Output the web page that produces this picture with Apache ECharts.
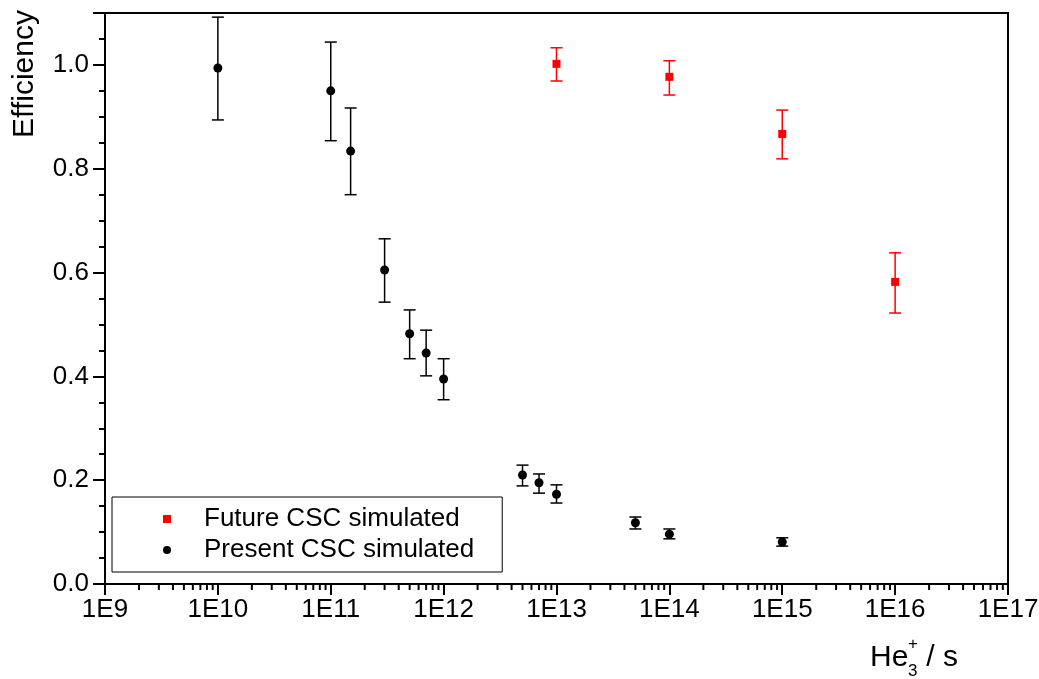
<!DOCTYPE html>
<html>
<head>
<meta charset="utf-8">
<script src="https://cdn.jsdelivr.net/npm/echarts@6/dist/echarts.min.js"></script>
<style>
html,body{margin:0;padding:0;background:#fff;}
#chart{width:1039px;height:679px;}
</style>
</head>
<body>
<div id="chart"></div>
<script>
// ---- data ----
const presentX    = [1e10, 1e11, 1.5e11, 3e11, 5e11, 7e11, 1e12, 5e12, 7e12, 1e13, 5e13, 1e14, 1e15];
const presentY    = [0.994, 0.950, 0.834, 0.605, 0.482, 0.445, 0.395, 0.210, 0.195, 0.173, 0.118, 0.096, 0.081];
const presentLow  = [0.894, 0.854, 0.750, 0.543, 0.434, 0.401, 0.355, 0.189, 0.175, 0.156, 0.106, 0.087, 0.073];
const presentHigh = [1.092, 1.044, 0.917, 0.665, 0.528, 0.489, 0.434, 0.229, 0.212, 0.191, 0.129, 0.106, 0.089];

const futureX    = [1e13, 1e14, 1e15, 1e16];
const futureY    = [1.002, 0.977, 0.867, 0.582];
const futureLow  = [0.969, 0.942, 0.819, 0.522];
const futureHigh = [1.033, 1.008, 0.913, 0.638];

const xTickExponents = [9, 10, 11, 12, 13, 14, 15, 16, 17];
const xTickLabels = ['1E9', '1E10', '1E11', '1E12', '1E13', '1E14', '1E15', '1E16', '1E17'];
const minorMultipliers = [2, 3, 4, 5, 6, 7, 8, 9];

const FONT = 'Liberation Sans, Arial, sans-serif';

// minor tick positions for the log axis
const minorTickValues = [];
for (let k = 0; k < xTickExponents.length - 1; k++) {
  for (const m of minorMultipliers) minorTickValues.push([m * Math.pow(10, xTickExponents[k])]);
}

function errData(xs, lo, hi) { return xs.map((x, i) => [x, lo[i], hi[i]]); }
function errRender(color) {
  return function (params, api) {
    const x = api.value(0), lo = api.value(1), hi = api.value(2);
    const p1 = api.coord([x, hi]), p2 = api.coord([x, lo]);
    const w = 6;
    const st = { stroke: color, lineWidth: 1.5 };
    return { type: 'group', children: [
      { type: 'line', shape: { x1: p1[0], y1: p1[1], x2: p2[0], y2: p2[1] }, style: st },
      { type: 'line', shape: { x1: p1[0] - w, y1: p1[1], x2: p1[0] + w, y2: p1[1] }, style: st },
      { type: 'line', shape: { x1: p2[0] - w, y1: p2[1], x2: p2[0] + w, y2: p2[1] }, style: st }
    ]};
  };
}

const chart = echarts.init(document.getElementById('chart'), null, { renderer: 'canvas' });
chart.setOption({
  animation: false,
  backgroundColor: '#fff',
  textStyle: { fontFamily: FONT },
  grid: { left: 105, right: 31, top: 13, bottom: 95, containLabel: false, outerBoundsMode: 'none',
          show: true, borderColor: '#000', borderWidth: 2, backgroundColor: 'transparent' },
  xAxis: {
    type: 'log', logBase: 10, min: 1e9, max: 1e17, splitNumber: 8,
    axisLine: { show: true, lineStyle: { color: '#000', width: 2 } },
    axisTick: { show: true, inside: false, length: 11, lineStyle: { color: '#000', width: 2 } },
    minorTick: { show: false },
    splitLine: { show: false },
    axisLabel: { color: '#000', fontSize: 26, fontFamily: FONT, margin: 13,
      formatter: v => { const e = Math.round(Math.log10(v)); const i = xTickExponents.indexOf(e); return i >= 0 ? xTickLabels[i] : ''; } }
  },
  yAxis: {
    type: 'value', min: 0, max: 1.1, interval: 0.2,
    axisLine: { show: true, lineStyle: { color: '#000', width: 2 } },
    axisTick: { show: true, inside: false, length: 12, lineStyle: { color: '#000', width: 2 } },
    minorTick: { show: true, splitNumber: 4, length: 6, lineStyle: { color: '#000', width: 2 } },
    splitLine: { show: false },
    axisLabel: { color: '#000', fontSize: 26, fontFamily: FONT, margin: 16, showMaxLabel: false,
      formatter: v => v.toFixed(1) }
  },
  legend: {
    orient: 'vertical', left: 112, top: 497,
    padding: [8, 28, 8, 51],
    itemGap: 3, itemWidth: 8, itemHeight: 8,
    borderColor: '#000', borderWidth: 1,
    textStyle: { fontSize: 26, color: '#000', fontFamily: FONT, lineHeight: 28, padding: [0, 0, 0, 28] },
    data: ['Future CSC simulated', 'Present CSC simulated']
  },
  graphic: [
    { type: 'text', x: 25, y: 74, rotation: Math.PI / 2,
      style: { text: 'Efficiency', font: '30px ' + FONT, fill: '#000', align: 'center', verticalAlign: 'middle' } },
    { type: 'group', x: 870, y: 658, children: [
      { type: 'text', x: 0, y: 0, style: { text: 'He', font: '30px ' + FONT, fill: '#000', align: 'left', verticalAlign: 'middle' } },
      { type: 'text', x: 38, y: -14, style: { text: '+', font: '17px ' + FONT, fill: '#000', align: 'left', verticalAlign: 'middle' } },
      { type: 'text', x: 38, y: 13, style: { text: '3', font: '17px ' + FONT, fill: '#000', align: 'left', verticalAlign: 'middle' } },
      { type: 'text', x: 48, y: 0, style: { text: ' / s', font: '30px ' + FONT, fill: '#000', align: 'left', verticalAlign: 'middle' } }
    ]}
  ],
  series: [
    { type: 'custom', name: 'xMinorTicks', silent: true, clip: false, z: 1,
      data: minorTickValues, encode: { x: 0 },
      renderItem: (params, api) => {
        const p = api.coord([api.value(0), 0]);
        return { type: 'line', shape: { x1: p[0], y1: p[1], x2: p[0], y2: p[1] + 6 }, style: { stroke: '#000', lineWidth: 2 } };
      } },
    { type: 'custom', name: 'presentErr', silent: true, z: 2,
      data: errData(presentX, presentLow, presentHigh), encode: { x: 0, y: [1, 2] },
      renderItem: errRender('#000') },
    { type: 'custom', name: 'futureErr', silent: true, z: 2,
      data: errData(futureX, futureLow, futureHigh), encode: { x: 0, y: [1, 2] },
      renderItem: errRender('#ff0000') },
    { type: 'scatter', name: 'Future CSC simulated', symbol: 'rect', symbolSize: 8, z: 3,
      itemStyle: { color: '#ff0000', opacity: 1 },
      data: futureX.map((x, i) => [x, futureY[i]]) },
    { type: 'scatter', name: 'Present CSC simulated', symbol: 'circle', symbolSize: 9, z: 3,
      itemStyle: { color: '#000', opacity: 1 },
      data: presentX.map((x, i) => [x, presentY[i]]) }
  ]
});
</script>
</body>
</html>
